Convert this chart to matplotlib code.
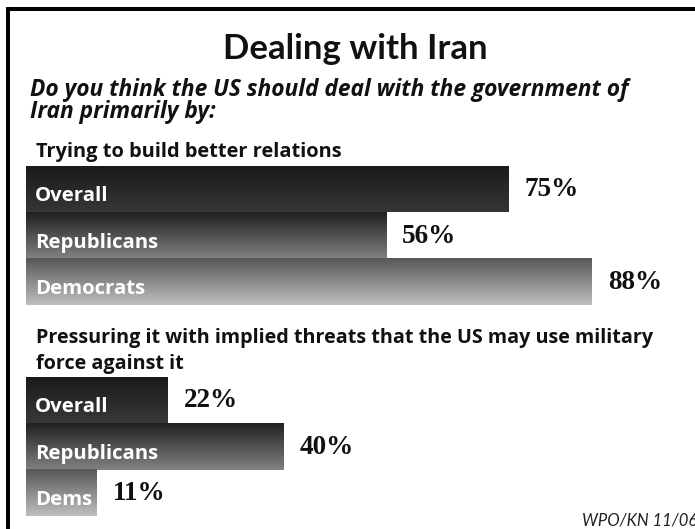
import matplotlib
matplotlib.use("Agg")
import matplotlib.pyplot as plt
import numpy as np
from matplotlib.colors import LinearSegmentedColormap

# ---------------- data ----------------
title = "Dealing with Iran"
question_lines = ["Do you think the US should deal with the government of",
                  "Iran primarily by:"]
q1_heading_lines = ["Trying to build better relations"]
q2_heading_lines = ["Pressuring it with implied threats that the US may use military",
                    "force against it"]
q1_groups = ["Overall", "Republicans", "Democrats"]
q1_values = [75, 56, 88]
q2_groups = ["Overall", "Republicans", "Dems"]
q2_values = [22, 40, 11]
source = "WPO/KN 11/06"

# ---------------- styles ----------------
TITLE_FONT = ["Lato", "DejaVu Sans"]
SANS = ["Open Sans", "DejaVu Sans"]
SERIF = ["Liberation Serif", "DejaVu Serif"]
q1_grads = [("#1a1a1a", "#363636"), ("#202020", "#828282"), ("#575757", "#bfbfbf")]
q2_grads = [("#1a1a1a", "#383838"), ("#202020", "#828282"), ("#575757", "#bfbfbf")]
TXT = "#111111"

W, H = 695, 529
PX = 0.72  # points per pixel at dpi 100
fig = plt.figure(figsize=(W / 100, H / 100), dpi=100)
fig.patch.set_facecolor("white")

bg = fig.add_axes([0, 0, 1, 1])
bg.set_xlim(0, W)
bg.set_ylim(H, 0)
bg.axis("off")

# frame (open on right and bottom)
bg.plot([8, 8], [9, H + 10], color="black", lw=4 * PX, solid_capstyle="projecting")
bg.plot([8, W + 10], [9, 9], color="black", lw=4 * PX, solid_capstyle="projecting")

# titles
bg.text(355, 59, title, ha="center", va="baseline", fontsize=25,
        fontweight="bold", family=TITLE_FONT, color=TXT)
for i, line in enumerate(question_lines):
    bg.text(30, 96 + 22 * i, line, ha="left", va="baseline", fontsize=16.4,
            fontweight="bold", fontstyle="italic", family=SANS, color=TXT)
for i, line in enumerate(q1_heading_lines):
    bg.text(36, 157 + 26 * i, line, ha="left", va="baseline", fontsize=14.4,
            fontweight="bold", family=SANS, color=TXT)
for i, line in enumerate(q2_heading_lines):
    bg.text(36, 343 + 26 * i, line, ha="left", va="baseline", fontsize=14.2,
            fontweight="bold", family=SANS, color=TXT)
bg.text(582, 526, source, ha="left", va="baseline", fontsize=12,
        fontstyle="italic", family=TITLE_FONT, color="#222222")

SCALE = 6.43  # px per percent


def draw_group(top_px, bottom_px, groups, values, grads):
    ax = fig.add_axes([26 / W, 1 - bottom_px / H, 100 * SCALE / W, (bottom_px - top_px) / H])
    n = len(groups)
    bars = ax.barh(range(n), values, height=1.0, color="none", edgecolor="none")
    grad = np.linspace(0, 1, 256).reshape(-1, 1)
    for bar, (c_top, c_bot) in zip(bars, grads):
        x0, y0, w, h = bar.get_x(), bar.get_y(), bar.get_width(), bar.get_height()
        cmap = LinearSegmentedColormap.from_list("g", [c_top, c_bot])
        ax.imshow(grad, cmap=cmap, aspect="auto", origin="upper",
                  extent=(x0, x0 + w, y0 + h, y0), interpolation="bilinear")
    ax.set_xlim(0, 100)
    ax.set_ylim(n - 0.5, -0.5)
    ax.axis("off")
    for i, (g, v) in enumerate(zip(groups, values)):
        ax.annotate(g, xy=(0, i + 0.5), xytext=(9 * PX, 11 * PX),
                    textcoords="offset points", ha="left", va="baseline",
                    fontsize=14.7, fontweight="bold", family=SANS, color="white")
        ax.annotate(f"{v}%", xy=(v, i + 0.5), xytext=(16 * PX, 16 * PX),
                    textcoords="offset points", ha="left", va="baseline",
                    fontsize=19.5, fontweight="bold", family=SERIF, color=TXT)
    return ax


draw_group(166, 305, q1_groups, q1_values, q1_grads)
draw_group(377, 516, q2_groups, q2_values, q2_grads)

fig.savefig("out.png", dpi=100, facecolor="white")
